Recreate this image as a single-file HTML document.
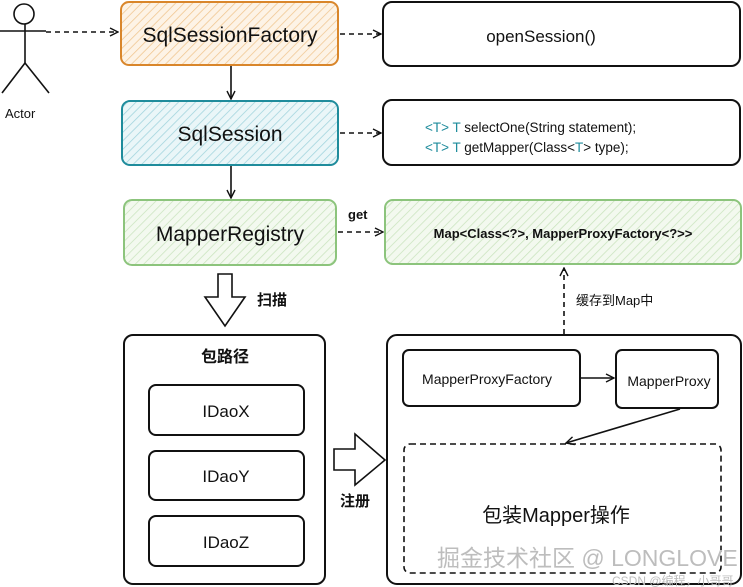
<!DOCTYPE html>
<html><head><meta charset="utf-8"><style>
html,body{margin:0;padding:0;background:#fff;width:743px;height:587px;overflow:hidden}
svg{display:block}
text{font-family:"Liberation Sans","Noto Sans CJK SC",sans-serif;fill:#111}
</style></head><body>
<svg width="743" height="587" viewBox="0 0 743 587" xmlns="http://www.w3.org/2000/svg">
<defs>
<pattern id="ho" width="6" height="6" patternUnits="userSpaceOnUse" patternTransform="rotate(45)"><rect width="6" height="6" fill="#fdf3e6"/><line x1="0" y1="0" x2="0" y2="6" stroke="#f0c58f" stroke-width="1.5"/></pattern>
<pattern id="ht" width="6" height="6" patternUnits="userSpaceOnUse" patternTransform="rotate(45)"><rect width="6" height="6" fill="#eaf6f8"/><line x1="0" y1="0" x2="0" y2="6" stroke="#9fd3dc" stroke-width="1.5"/></pattern>
<pattern id="hg" width="6" height="6" patternUnits="userSpaceOnUse" patternTransform="rotate(45)"><rect width="6" height="6" fill="#f3f9ef"/><line x1="0" y1="0" x2="0" y2="6" stroke="#c9e3bd" stroke-width="1.5"/></pattern>
<marker id="a" markerWidth="10" markerHeight="10" refX="9" refY="5" orient="auto" markerUnits="userSpaceOnUse"><path d="M1,1 L9,5 L1,9" fill="none" stroke="#111" stroke-width="1.4"/></marker>
</defs>
<g stroke="#111" stroke-width="1.6" fill="none">
<!-- actor -->
<circle cx="24" cy="14" r="10"/>
<line x1="25" y1="24" x2="25" y2="63"/>
<line x1="0" y1="31" x2="46" y2="31"/>
<line x1="25" y1="63" x2="2" y2="93"/>
<line x1="25" y1="63" x2="49" y2="93"/>
</g>
<text x="5" y="118" font-size="13">Actor</text>
<!-- top boxes -->
<rect x="121" y="2" width="217" height="63" rx="8" fill="url(#ho)" stroke="#d9862b" stroke-width="2"/>
<text x="230" y="42" font-size="21" text-anchor="middle">SqlSessionFactory</text>
<rect x="383" y="2" width="357" height="64" rx="9" fill="#fff" stroke="#111" stroke-width="2"/>
<text x="541" y="42" font-size="17" text-anchor="middle">openSession()</text>
<rect x="122" y="101" width="216" height="64" rx="8" fill="url(#ht)" stroke="#1f8c9c" stroke-width="2"/>
<text x="230" y="141" font-size="21" text-anchor="middle">SqlSession</text>
<rect x="383" y="100" width="357" height="65" rx="9" fill="#fff" stroke="#111" stroke-width="2"/>
<text x="425" y="132" font-size="13.5"><tspan fill="#1f8c9c">&lt;T&gt; T</tspan> selectOne(String statement);</text>
<text x="425" y="152" font-size="13.5"><tspan fill="#1f8c9c">&lt;T&gt; T</tspan> getMapper(Class&lt;<tspan fill="#1f8c9c">T</tspan>&gt; type);</text>
<rect x="124" y="200" width="212" height="65" rx="8" fill="url(#hg)" stroke="#8cc47c" stroke-width="2"/>
<text x="230" y="241" font-size="21" text-anchor="middle">MapperRegistry</text>
<rect x="385" y="200" width="356" height="64" rx="8" fill="url(#hg)" stroke="#8cc47c" stroke-width="2"/>
<text x="563" y="238" font-size="13" font-weight="bold" text-anchor="middle">Map&lt;Class&lt;?&gt;, MapperProxyFactory&lt;?&gt;&gt;</text>
<text x="348" y="219" font-size="13" font-weight="bold">get</text>
<!-- connectors -->
<g stroke="#111" stroke-width="1.6" fill="none" marker-end="url(#a)">
<line x1="46" y1="32" x2="118" y2="32" stroke-dasharray="5,4"/>
<line x1="340" y1="34" x2="381" y2="34" stroke-dasharray="5,4"/>
<line x1="340" y1="133" x2="381" y2="133" stroke-dasharray="5,4"/>
<line x1="338" y1="232" x2="383" y2="232" stroke-dasharray="5,4"/>
<line x1="231" y1="66" x2="231" y2="99"/>
<line x1="231" y1="166" x2="231" y2="198"/>
<line x1="564" y1="334" x2="564" y2="268" stroke-dasharray="5,4"/>
<line x1="581" y1="378" x2="614" y2="378"/>
<line x1="680" y1="409" x2="566" y2="443"/>
</g>
<!-- hollow arrows -->
<path d="M218,274 L232,274 L232,297 L245,297 L225,326 L205,297 L218,297 Z" fill="#fff" stroke="#111" stroke-width="1.6"/>
<text x="257" y="305" font-size="15" font-weight="bold">扫描</text>
<path d="M334,449 L355,449 L355,434 L385,460 L355,485 L355,470 L334,470 Z" fill="#fff" stroke="#111" stroke-width="1.6"/>
<text x="340" y="506" font-size="15" font-weight="bold">注册</text>
<text x="576" y="305" font-size="13">缓存到Map中</text>
<!-- left panel -->
<rect x="124" y="335" width="201" height="249" rx="9" fill="#fff" stroke="#111" stroke-width="2"/>
<text x="225" y="362" font-size="16" font-weight="bold" text-anchor="middle">包路径</text>
<g fill="#fff" stroke="#111" stroke-width="2">
<rect x="149" y="385" width="155" height="50" rx="7"/>
<rect x="149" y="451" width="155" height="49" rx="7"/>
<rect x="149" y="516" width="155" height="50" rx="7"/>
</g>
<text x="226" y="417" font-size="17" text-anchor="middle">IDaoX</text>
<text x="226" y="482" font-size="17" text-anchor="middle">IDaoY</text>
<text x="226" y="548" font-size="17" text-anchor="middle">IDaoZ</text>
<!-- right panel -->
<rect x="387" y="335" width="354" height="249" rx="10" fill="none" stroke="#111" stroke-width="2"/>
<rect x="403" y="350" width="177" height="56" rx="6" fill="#fff" stroke="#111" stroke-width="2"/>
<text x="487" y="384" font-size="14" text-anchor="middle">MapperProxyFactory</text>
<rect x="616" y="350" width="102" height="58" rx="6" fill="#fff" stroke="#111" stroke-width="2"/>
<text x="669" y="386" font-size="14" text-anchor="middle">MapperProxy</text>
<rect x="404" y="444" width="317" height="129" rx="6" fill="none" stroke="#111" stroke-width="1.6" stroke-dasharray="6,4"/>
<text x="556" y="522" font-size="20" text-anchor="middle">包装Mapper操作</text>
<text x="437" y="566" font-size="23" fill="#bbb" style="fill:#bdbdbd">掘金技术社区 @ LONGLOVE</text>
<text x="612" y="585" font-size="12" style="fill:#bdbdbd">CSDN @编程，小哥哥</text>
</svg>
</body></html>
